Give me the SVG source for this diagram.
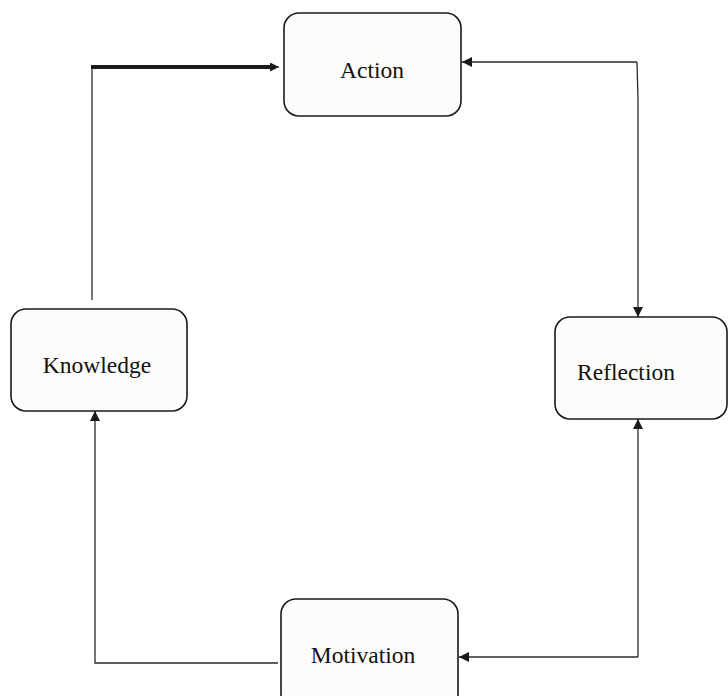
<svg xmlns="http://www.w3.org/2000/svg" width="728" height="696" viewBox="0 0 728 696">
<style>
.box{fill:#fdfcfa;stroke:#1a1a1a;stroke-width:1.6}
.lbl{font-family:"Liberation Serif","Times New Roman",serif;font-size:23.5px;fill:#111;text-anchor:middle;dominant-baseline:central}
.ln{fill:none;stroke:#2a2a2a;stroke-width:1.3}
</style>
<defs>
<marker id="ah" viewBox="0 0 10 10" refX="10" refY="5" markerWidth="10" markerHeight="10" markerUnits="userSpaceOnUse" orient="auto-start-reverse">
<path d="M0,0 L10,5 L0,10 z" fill="#1a1a1a"/>
</marker>
<marker id="ahs" viewBox="0 0 10 10" refX="10" refY="5" markerWidth="10" markerHeight="9" markerUnits="userSpaceOnUse" orient="auto">
<path d="M0,0 L10,5 L0,10 z" fill="#1a1a1a"/>
</marker>
</defs>
<rect width="728" height="696" fill="#fff"/>
<g id="connectors">
<path class="ln" d="M92,300 V67"/>
<path d="M91,67 H272" fill="none" stroke="#1a1a1a" stroke-width="4"/>
<path d="M270,67 H279" fill="none" stroke="#1a1a1a" stroke-width="1" marker-end="url(#ahs)"/>
<path class="ln" d="M637,62 H462" marker-end="url(#ah)"/>
<path class="ln" d="M637,62 L638,100 V317" marker-end="url(#ah)"/>
<path class="ln" d="M638,657 V419" marker-end="url(#ah)"/>
<path class="ln" d="M638,657 H459" marker-end="url(#ah)"/>
<path class="ln" d="M278,663 H95 V411" marker-end="url(#ah)"/>
</g>
<g id="action"><rect class="box" x="284" y="13" width="177" height="103" rx="15"/><text class="lbl" x="372" y="70">Action</text></g>
<g id="reflection"><rect class="box" x="555" y="317" width="172" height="102" rx="15"/><text class="lbl" x="626" y="372">Reflection</text></g>
<g id="knowledge"><rect class="box" x="11" y="309" width="176" height="102" rx="15"/><text class="lbl" x="97" y="365">Knowledge</text></g>
<g id="motivation"><rect class="box" x="281" y="599" width="177" height="110" rx="15"/><text class="lbl" x="363" y="655">Motivation</text></g>
</svg>
